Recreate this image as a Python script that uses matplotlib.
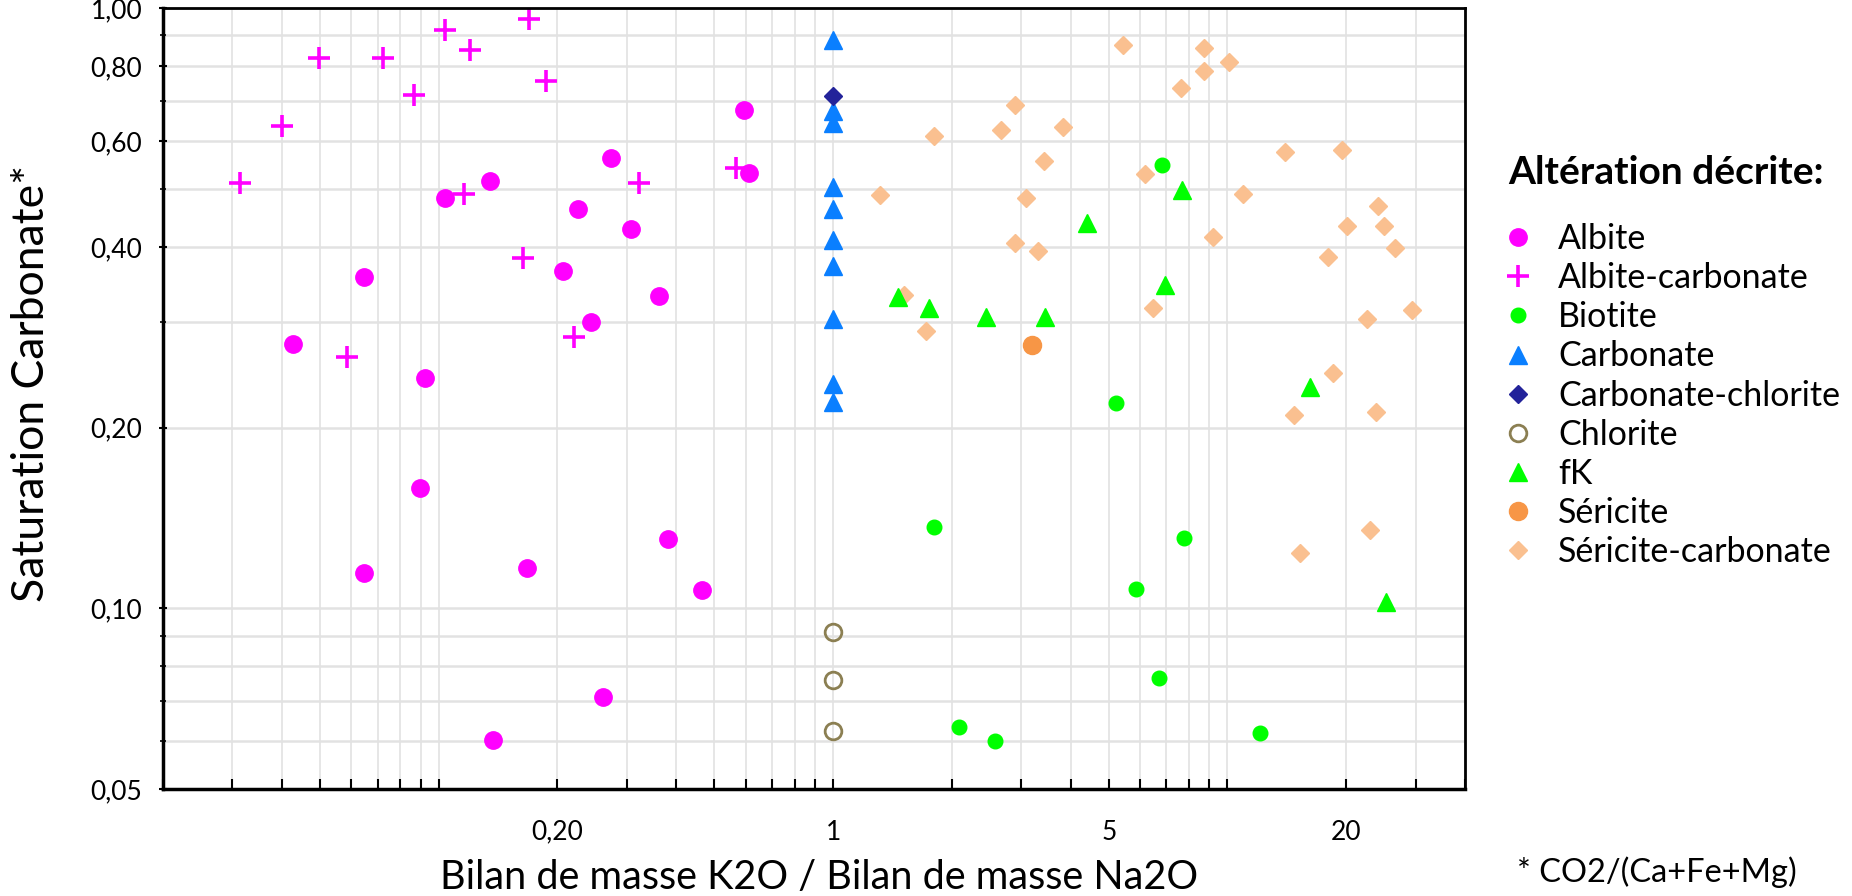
import numpy as np
import matplotlib
matplotlib.use('Agg')
import matplotlib.pyplot as plt
from matplotlib.ticker import FixedLocator, FixedFormatter, LogLocator, NullFormatter

plt.rcParams['font.family'] = ['Lato', 'DejaVu Sans']

# data (x = K2O / Na2O mass balance, y = carbonate saturation)
albite_x = [0.0645, 0.0428, 0.0926, 0.1038, 0.135, 0.225, 0.2067, 0.2438, 0.2735, 0.3066,
            0.3623, 0.593, 0.6135, 0.0897, 0.0645, 0.1673, 0.1372, 0.261, 0.3806, 0.464]
albite_y = [0.357, 0.276, 0.242, 0.483, 0.5155, 0.462, 0.364, 0.300, 0.5615, 0.428,
            0.331, 0.675, 0.532, 0.1584, 0.1147, 0.1169, 0.0604, 0.0711, 0.1304, 0.1073]

albcarb_x = [0.0313, 0.040, 0.0496, 0.0723, 0.0864, 0.1038, 0.1202, 0.1695, 0.1874, 0.116,
             0.164, 0.0585, 0.2206, 0.322, 0.566]
albcarb_y = [0.512, 0.637, 0.825, 0.825, 0.717, 0.920, 0.852, 0.959, 0.757, 0.490,
             0.383, 0.262, 0.283, 0.512, 0.541]

biotite_x = [6.81, 5.23, 1.798, 5.86, 6.69, 2.08, 2.58, 7.76, 12.09]
biotite_y = [0.547, 0.220, 0.1368, 0.1077, 0.0764, 0.0635, 0.0601, 0.131, 0.062]

carb_x = [1.0, 1.0, 1.0, 1.0, 1.0, 1.0, 1.0, 1.0, 1.0, 1.0]
carb_y = [0.885, 0.674, 0.644, 0.504, 0.462, 0.411, 0.372, 0.303, 0.2363, 0.221]

carbchl_x = [1.0]
carbchl_y = [0.713]

chlorite_x = [1.0, 1.0, 1.0]
chlorite_y = [0.0912, 0.076, 0.0625]

fk_x = [1.464, 1.754, 2.436, 3.45, 4.41, 6.96, 7.67, 16.15, 25.2]
fk_y = [0.330, 0.316, 0.306, 0.306, 0.4377, 0.345, 0.4975, 0.2333, 0.1026]

sericite_x = [3.2]
sericite_y = [0.2748]

sercarb_x = [5.43, 8.73, 10.1, 8.70, 7.64, 2.897, 3.83, 2.669, 1.80, 3.42, 6.17, 1.316,
             3.09, 10.94, 14.02, 19.5, 24.1, 24.97, 20.1, 9.17, 2.897, 3.31, 26.65, 17.97,
             1.51, 6.49, 29.4, 22.6, 1.716, 18.5, 14.74, 23.75, 15.26, 22.96]
sercarb_y = [0.866, 0.858, 0.812, 0.784, 0.736, 0.690, 0.633, 0.627, 0.613, 0.555, 0.528, 0.488,
             0.483, 0.489, 0.575, 0.581, 0.467, 0.433, 0.433, 0.4155, 0.406, 0.393, 0.3977, 0.385,
             0.332, 0.316, 0.3134, 0.303, 0.290, 0.247, 0.210, 0.212, 0.1235, 0.1348]

xticks = [0.2, 1, 5, 20]
xticklabels = ['0,20', '1', '5', '20']
yticks = [0.05, 0.1, 0.2, 0.4, 0.6, 0.8, 1.0]
yticklabels = ['0,05', '0,10', '0,20', '0,40', '0,60', '0,80', '1,00']

fig = plt.figure(figsize=(18.52, 8.96), dpi=100)
ax = fig.add_axes([0.0880, 0.1194, 0.7030, 0.8717])

# draw order chosen so overlaps look like the original
ax.plot(sercarb_x, sercarb_y, 'D', color='#fac090', ms=9.5, ls='none', label='Séricite-carbonate')
ax.plot(albcarb_x, albcarb_y, '+', color='#ff00ff', ms=16, mew=2.6, ls='none', label='Albite-carbonate')
ax.plot(albite_x, albite_y, 'o', color='#ff00ff', ms=12.5, ls='none', label='Albite')
ax.plot(biotite_x, biotite_y, 'o', color='#00ff00', ms=10.5, ls='none', label='Biotite')
ax.plot(carb_x, carb_y, '^', color='#0a7fff', ms=12.5, ls='none', label='Carbonate')
ax.plot(carbchl_x, carbchl_y, 'D', color='#23239a', ms=9.5, ls='none', label='Carbonate-chlorite')
ax.plot(chlorite_x, chlorite_y, 'o', mfc='none', mec='#8b7f52', mew=2, ms=12, ls='none', label='Chlorite')
ax.plot(fk_x, fk_y, '^', color='#00ff00', ms=12.5, ls='none', label='fK')
ax.plot(sericite_x, sericite_y, 'o', color='#f79646', ms=13, ls='none', label='Séricite')

ax.set_xscale('log')
ax.set_yscale('log')
ax.set_xlim(0.02, 40)
ax.set_ylim(0.05, 1.0)

ax.xaxis.set_major_locator(FixedLocator(xticks))
ax.xaxis.set_major_formatter(FixedFormatter(xticklabels))
ax.xaxis.set_minor_locator(LogLocator(base=10, subs=np.arange(1, 10), numticks=30))
ax.xaxis.set_minor_formatter(NullFormatter())
ax.yaxis.set_major_locator(FixedLocator(yticks))
ax.yaxis.set_major_formatter(FixedFormatter(yticklabels))
ax.yaxis.set_minor_locator(LogLocator(base=10, subs=np.arange(1, 10), numticks=30))
ax.yaxis.set_minor_formatter(NullFormatter())

# horizontal grid a bit heavier than the vertical one
ax.xaxis.grid(True, which='both', color='#e2e2e2', lw=1.2)
ax.yaxis.grid(True, which='both', color='#e2e2e2', lw=1.8)
ax.set_axisbelow(True)

ax.tick_params(axis='x', which='both', direction='in', length=7, width=1.5, labelsize=19, pad=22)
ax.tick_params(axis='y', which='major', direction='inout', length=6, width=1.5, labelsize=19, pad=12)
ax.tick_params(axis='y', which='minor', direction='inout', length=4, width=1.2)
for s in ['left', 'bottom']:
    ax.spines[s].set_linewidth(2.5)
for s in ['top', 'right']:
    ax.spines[s].set_linewidth(2)

ax.set_xlabel('Bilan de masse K2O / Bilan de masse Na2O', fontsize=28.5)
ax.xaxis.label.set_va('center')
ax.xaxis.set_label_coords(0.504, -0.1135)
ax.set_ylabel('Saturation Carbonate*', fontsize=32)
ax.yaxis.label.set_va('center')
ax.yaxis.set_label_coords(-0.1006, 0.519)

# legend in the original order, title placed on its own
handles, labels = ax.get_legend_handles_labels()
order = ['Albite', 'Albite-carbonate', 'Biotite', 'Carbonate', 'Carbonate-chlorite',
         'Chlorite', 'fK', 'Séricite', 'Séricite-carbonate']
hmap = dict(zip(labels, handles))
fig.legend([hmap[k] for k in order], order, loc='upper left',
           bbox_to_anchor=(1501 / 1852, 1 - 223 / 896), frameon=False,
           fontsize=24.5, handletextpad=0.68, labelspacing=0.21,
           handlelength=1.0, borderpad=0, borderaxespad=0)
fig.text(1508 / 1852, 1 - 172 / 896, 'Altération décrite:', fontsize=28,
         fontweight='bold', va='center', ha='left')

fig.text(1517 / 1852, 1 - 872 / 896, '* CO2/(Ca+Fe+Mg)', fontsize=23.5, va='center', ha='left')

plt.savefig('out.png', dpi=100)
